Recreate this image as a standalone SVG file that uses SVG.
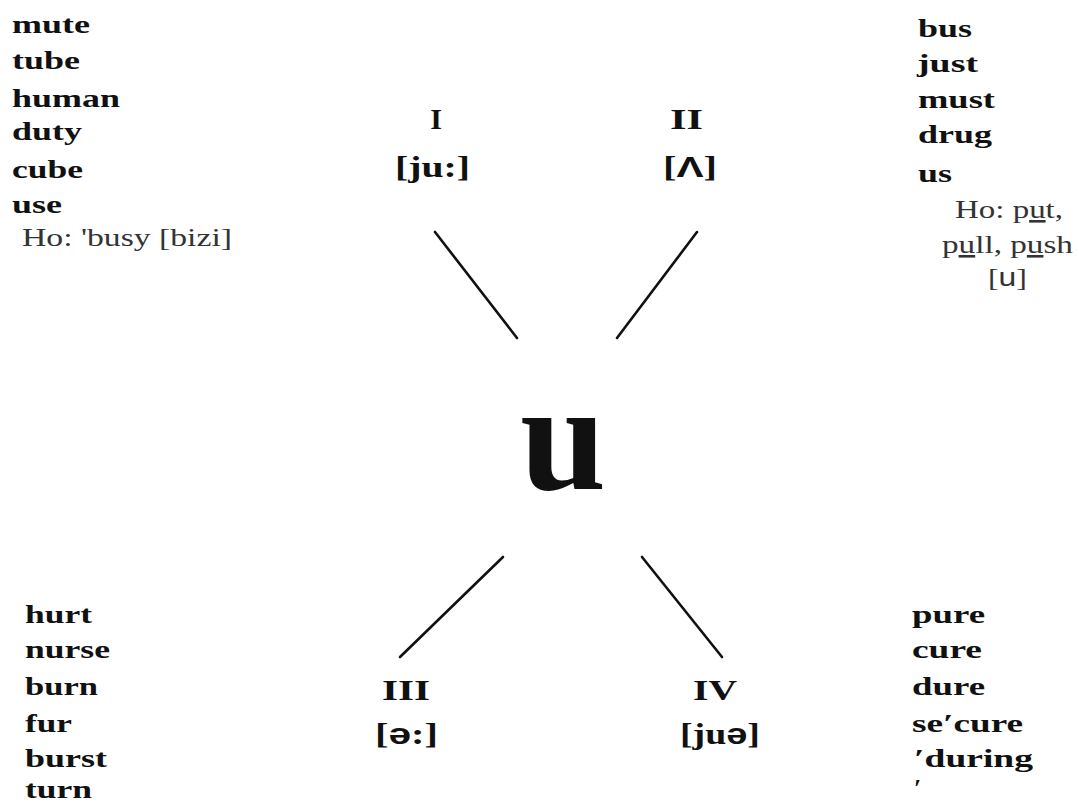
<svg xmlns="http://www.w3.org/2000/svg" width="1079" height="805" viewBox="0 0 1079 805">
<style>
.w{font-family:"Liberation Serif",serif;font-weight:bold;font-size:26px;fill:#111}
.n{font-family:"Liberation Serif",serif;font-size:26px;fill:#333}
.r{font-family:"Liberation Serif",serif;font-weight:bold;font-size:30px;fill:#111}
.s{font-family:"Liberation Sans",sans-serif;font-weight:bold}
.sn{font-family:"Liberation Sans",sans-serif;font-weight:normal}
.c{stroke:#111;stroke-width:2.6;stroke-linecap:round;fill:none}
</style>
<rect width="1079" height="805" fill="#fff"/>
<g id="connectors">
<line class="c" x1="435" y1="232" x2="517" y2="338"/>
<line class="c" x1="697" y1="232" x2="617" y2="338"/>
<line class="c" x1="503" y1="557" x2="400" y2="657"/>
<line class="c" x1="642" y1="557" x2="722" y2="657"/>
</g>
<g id="center">
<text x="563" y="489" text-anchor="middle" style="font-family:'Liberation Serif',serif;font-weight:bold;font-size:155px;fill:#111">u</text>
</g>
<g id="group-I">
<text class="r" x="436" y="129" text-anchor="middle">I</text>
<text class="r" x="395" y="177" textLength="75" lengthAdjust="spacingAndGlyphs">[ju:]</text>
</g>
<g id="group-II">
<text class="r" x="670" y="129" textLength="33" lengthAdjust="spacingAndGlyphs">II</text>
<text class="r" x="663" y="177" textLength="54" lengthAdjust="spacingAndGlyphs">[<tspan class="s">Λ</tspan>]</text>
</g>
<g id="group-III">
<text class="r" x="382" y="700" textLength="48" lengthAdjust="spacingAndGlyphs">III</text>
<text class="r" x="375" y="744" textLength="63" lengthAdjust="spacingAndGlyphs">[<tspan class="s">ə</tspan>:]</text>
</g>
<g id="group-IV">
<text class="r" x="693" y="700" textLength="44" lengthAdjust="spacingAndGlyphs">IV</text>
<text class="r" x="680" y="744" textLength="80" lengthAdjust="spacingAndGlyphs">[ju<tspan class="s">ə</tspan>]</text>
</g>
<g id="list-I">
<text class="w" x="12" y="33" textLength="78" lengthAdjust="spacingAndGlyphs">mute</text>
<text class="w" x="12" y="69" textLength="68" lengthAdjust="spacingAndGlyphs">tube</text>
<text class="w" x="12" y="107" textLength="108" lengthAdjust="spacingAndGlyphs">human</text>
<text class="w" x="12" y="140" textLength="70" lengthAdjust="spacingAndGlyphs">duty</text>
<text class="w" x="12" y="178" textLength="71" lengthAdjust="spacingAndGlyphs">cube</text>
<text class="w" x="12" y="213" textLength="50" lengthAdjust="spacingAndGlyphs">use</text>
<text class="n" x="22" y="246" textLength="210" lengthAdjust="spacingAndGlyphs">Ho: 'busy [bizi]</text>
</g>
<g id="list-II">
<text class="w" x="918" y="37" textLength="54" lengthAdjust="spacingAndGlyphs">bus</text>
<text class="w" x="917" y="72" textLength="61" lengthAdjust="spacingAndGlyphs">just</text>
<text class="w" x="918" y="108" textLength="77" lengthAdjust="spacingAndGlyphs">must</text>
<text class="w" x="918" y="143" textLength="74" lengthAdjust="spacingAndGlyphs">drug</text>
<text class="w" x="918" y="182" textLength="34" lengthAdjust="spacingAndGlyphs">us</text>
<text class="n" x="955" y="218" textLength="108" lengthAdjust="spacingAndGlyphs">Ho: p<tspan text-decoration="underline">u</tspan>t,</text>
<text class="n" x="942" y="253" textLength="131" lengthAdjust="spacingAndGlyphs">p<tspan text-decoration="underline">u</tspan>ll, p<tspan text-decoration="underline">u</tspan>sh</text>
<text class="n" x="988" y="286" textLength="39" lengthAdjust="spacingAndGlyphs">[<tspan class="sn">u</tspan>]</text>
</g>
<g id="list-III">
<text class="w" x="25" y="623" textLength="67" lengthAdjust="spacingAndGlyphs">hurt</text>
<text class="w" x="25" y="658" textLength="85" lengthAdjust="spacingAndGlyphs">nurse</text>
<text class="w" x="25" y="695" textLength="73" lengthAdjust="spacingAndGlyphs">burn</text>
<text class="w" x="25" y="732" textLength="47" lengthAdjust="spacingAndGlyphs">fur</text>
<text class="w" x="25" y="767" textLength="82" lengthAdjust="spacingAndGlyphs">burst</text>
<text class="w" x="25" y="798" textLength="67" lengthAdjust="spacingAndGlyphs">turn</text>
</g>
<g id="list-IV">
<text class="w" x="912" y="623" textLength="73" lengthAdjust="spacingAndGlyphs">pure</text>
<text class="w" x="912" y="658" textLength="70" lengthAdjust="spacingAndGlyphs">cure</text>
<text class="w" x="912" y="695" textLength="73" lengthAdjust="spacingAndGlyphs">dure</text>
<text class="w" x="912" y="732" textLength="111" lengthAdjust="spacingAndGlyphs">se′cure</text>
<text class="w" x="914" y="767" textLength="119" lengthAdjust="spacingAndGlyphs">′during</text>
<text class="w" x="914" y="797">′</text>
</g>
</svg>
